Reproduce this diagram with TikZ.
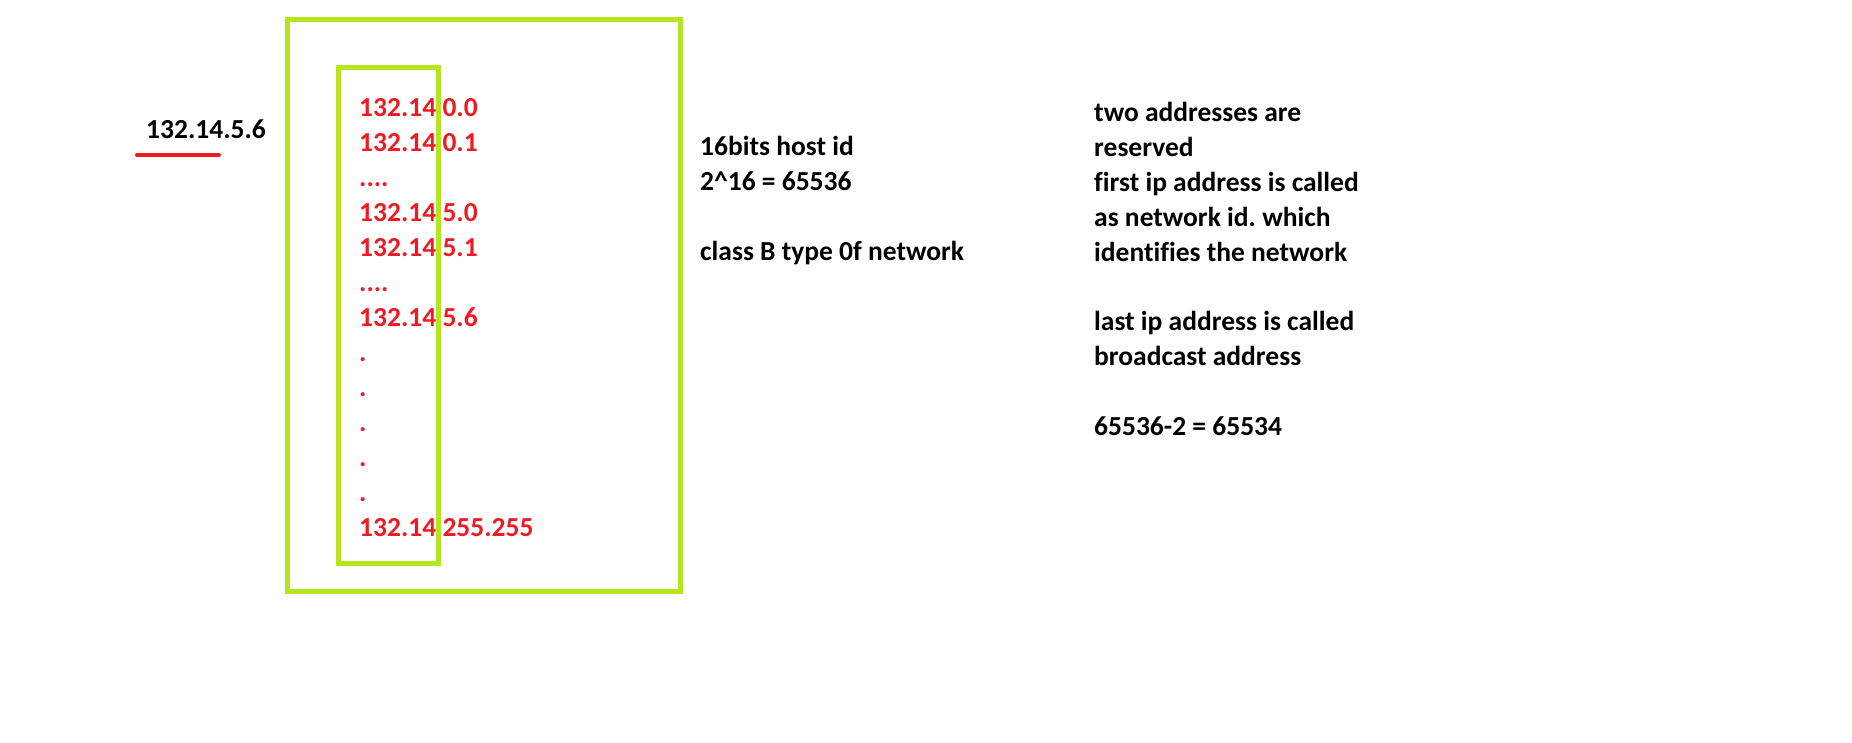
\documentclass[tikz,border=0pt]{standalone}
\usepackage{fontspec}
\setmainfont{Carlito}[Ligatures=NoCommon]
\definecolor{lime}{HTML}{B5E61D}
\definecolor{pred}{HTML}{ED1C24}
\frenchspacing
\begin{document}
\begin{tikzpicture}[x=1pt,y=-1pt,
  txt/.style={anchor=base west,inner sep=0pt,font=\fontsize{27.5}{35}\selectfont\bfseries},
  rtxt/.style={txt,text=pred},
  frame/.style={draw=lime,line width=5pt,anchor=north west,inner sep=0pt,outer sep=0pt}]
\useasboundingbox[fill=white] (0,0) rectangle (1852,743);
% boxes
\node[frame,minimum width=393pt,minimum height=571.5pt] (outer) at (287.5,19.5) {};
\node[frame,minimum width=100pt,minimum height=496pt] (inner) at (338.5,67.5) {};
% left label
\node[txt] (ip) at (146,138.3) {132.14.5.6};
\draw[pred,line width=4pt,line cap=round] (137,155) -- (219,155);
% red list
\node[rtxt] (p0) at (359,116.7) {132.14};  \node[rtxt] (s0) at (442.3,116.7) {0.0};
\node[rtxt] (p1) at (359,151.7) {132.14};  \node[rtxt] (s1) at (442.3,151.7) {0.1};
\node[rtxt] (p2) at (359,186.7) {....};
\node[rtxt] (p3) at (359,221.7) {132.14};  \node[rtxt] (s3) at (442.3,221.7) {5.0};
\node[rtxt] (p4) at (359,256.7) {132.14};  \node[rtxt] (s4) at (442.3,256.7) {5.1};
\node[rtxt] (p5) at (359,291.7) {....};
\node[rtxt] (p6) at (359,326.7) {132.14};  \node[rtxt] (s6) at (442.3,326.7) {5.6};
\node[rtxt] (p7) at (359,361.7) {.};
\node[rtxt] (p8) at (359,396.7) {.};
\node[rtxt] (p9) at (359,431.7) {.};
\node[rtxt] (p10) at (359,466.7) {.};
\node[rtxt] (p11) at (359,501.7) {.};
\node[rtxt] (p12) at (359,536.7) {132.14}; \node[rtxt] (s12) at (442.3,536.7) {255.255};
% middle text
\node[txt] (m1) at (700,156) {16bits host id};
\node[txt] (m2) at (700,191) {2\^{}16 = 65536};
\node[txt] (m3) at (700,261) {class B type 0f network};
% right text
\node[txt] (r1) at (1094,121.7) {two addresses are};
\node[txt] (r2) at (1094,156.7) {reserved};
\node[txt] (r3) at (1094,191.7) {first ip address is called};
\node[txt] (r4) at (1094,226.7) {as network id. which};
\node[txt] (r5) at (1094,261.7) {identifies the network};
\node[txt] (r6) at (1094,330.7) {last ip address is called};
\node[txt] (r7) at (1094,365.7) {broadcast address};
\node[txt] (r8) at (1094,435.7) {65536-2 = 65534};
\end{tikzpicture}
\end{document}
